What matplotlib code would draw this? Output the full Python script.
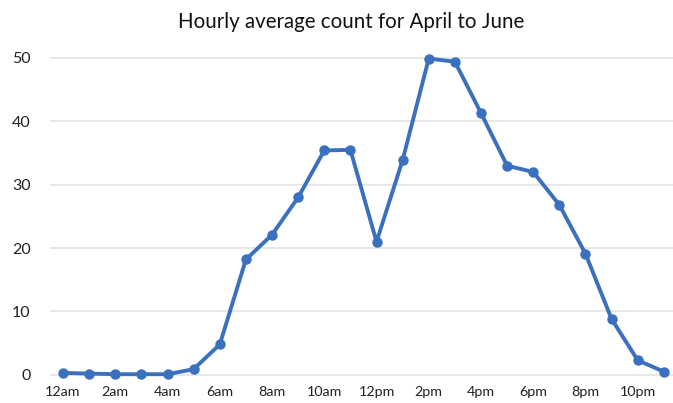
import matplotlib
matplotlib.use("Agg")
import matplotlib.pyplot as plt

hours = ["12am", "1am", "2am", "3am", "4am", "5am", "6am", "7am", "8am", "9am", "10am", "11am",
         "12pm", "1pm", "2pm", "3pm", "4pm", "5pm", "6pm", "7pm", "8pm", "9pm", "10pm", "11pm"]
counts = [0.3, 0.2, 0.1, 0.1, 0.1, 0.9, 4.8, 18.2, 22.1, 28.0, 35.4, 35.5,
          21.0, 33.9, 49.9, 49.4, 41.3, 33.0, 32.0, 26.8, 19.1, 8.8, 2.3, 0.5]
yticks = [0, 10, 20, 30, 40, 50]
title = "Hourly average count for April to June"

plt.rcParams['font.family'] = ['Lato', 'DejaVu Sans']

fig = plt.figure(figsize=(6.73, 4.03), dpi=100)
ax = fig.add_axes([50/673, 0.062, 1 - 50/673, 0.872 - 0.062])

x = list(range(len(hours)))
ax.plot(x, counts, color="#3A70BE", linewidth=2.8, marker="o", markersize=6.5,
        clip_on=False, zorder=3)

ax.set_xlim(-0.5, 23.35)
ax.set_ylim(-0.5, 51)
ax.set_xticks(x[::2])
ax.set_xticklabels(hours[::2], fontsize=10.3, color="#222222")
ax.tick_params(length=0, pad=6)
ax.set_yticks(yticks)
ax.set_yticklabels([str(v) for v in yticks], fontsize=11.5, color="#222222")
ax.tick_params(axis='y', pad=14)
ax.grid(axis='y', color="#E3E3E3", linewidth=1.2)
ax.set_axisbelow(True)
for s in ax.spines.values():
    s.set_visible(False)

fig.text(351/673, 1 - 22/403, title, ha="center", va="center", fontsize=14.8, color="#111111")

fig.savefig("out.png", dpi=100)
